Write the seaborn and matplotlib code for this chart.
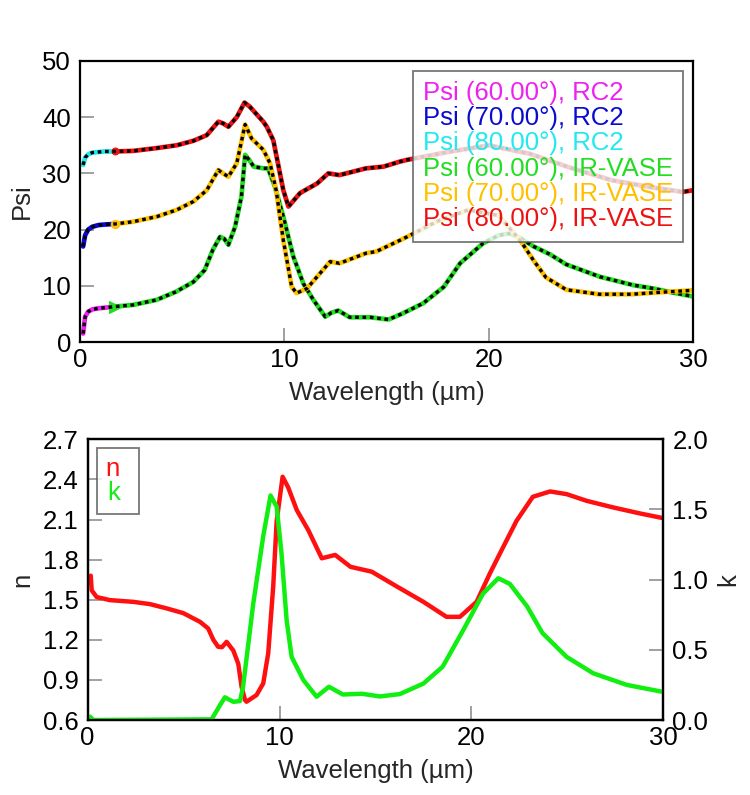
import matplotlib
matplotlib.use("Agg")
import matplotlib.pyplot as plt
import seaborn as sns

# RC2 part (short wavelength) for the three angles
rc2_wl = [0.15, 0.25, 0.4, 0.6, 0.9, 1.2, 1.7]
rc2_psi60 = [1.5, 4.5, 5.4, 5.8, 6.0, 6.1, 6.3]
rc2_psi70 = [17.0, 19.0, 20.0, 20.5, 20.8, 20.9, 21.0]
rc2_psi80 = [31.5, 32.8, 33.4, 33.7, 33.8, 33.9, 33.9]

# IR-VASE part
ir_wl60 = [1.7, 2.6, 3.75, 4.7, 5.55, 6.1, 6.5, 6.85, 7.05, 7.26, 7.59, 7.9, 8.08, 8.3,
           8.5, 8.97, 9.2, 9.54, 9.95, 10.44, 10.93, 11.42, 12.0, 12.3, 12.64, 13.2, 14.2,
           15.1, 15.8, 16.8, 17.8, 18.6, 19.74, 20.5, 21.0, 21.5, 22.2, 23.0, 23.8, 24.1,
           25.45, 27.1, 28.1, 29.0, 30.0]
ir_psi60 = [6.3, 6.6, 7.5, 8.95, 10.7, 12.8, 16.4, 18.7, 18.4, 17.3, 20.5, 25.9, 33.3, 32.3,
            31.2, 30.9, 30.9, 27.6, 22.3, 15.2, 10.4, 7.5, 4.5, 5.2, 5.6, 4.4, 4.4,
            4.0, 5.1, 6.9, 9.8, 14.0, 17.6, 19.0, 19.3, 18.6, 17.0, 15.6, 13.8, 13.4,
            11.6, 10.1, 9.5, 8.8, 8.1]
ir_wl70 = [1.7, 2.6, 3.75, 4.73, 5.55, 6.2, 6.77, 7.0, 7.26, 7.67, 8.08, 8.4, 8.97, 9.3,
           9.6, 9.95, 10.36, 10.6, 11.1, 12.24, 12.7, 14.0, 14.5, 15.66, 16.0, 17.5, 19.0,
           20.5, 21.6, 22.2, 22.8, 23.8, 25.4, 27.0, 28.2, 30.0]
ir_psi70 = [21.0, 21.4, 22.3, 23.5, 25.0, 27.0, 30.6, 30.0, 29.4, 31.8, 38.7, 36.2, 34.2, 31.8,
            27.0, 18.1, 9.8, 8.7, 9.5, 14.3, 14.0, 15.8, 16.1, 18.1, 18.7, 21.5, 23.5,
            22.5, 17.8, 14.5, 11.5, 9.3, 8.5, 8.5, 8.8, 9.2]
ir_wl80 = [1.7, 2.6, 3.75, 4.73, 5.55, 6.2, 6.77, 7.0, 7.26, 7.67, 8.05, 8.3, 8.97, 9.14,
           9.46, 9.95, 10.2, 10.77, 11.6, 12.15, 12.7, 14.0, 14.85, 15.66, 16.0, 18.0, 20.0,
           22.0, 24.0, 26.0, 28.0, 29.5, 30.0]
ir_psi80 = [33.9, 34.0, 34.5, 35.0, 35.8, 36.8, 39.2, 38.9, 38.3, 40.0, 42.6, 41.9, 39.2, 38.3,
            35.9, 27.0, 24.1, 26.5, 28.2, 30.0, 29.7, 30.9, 31.2, 32.1, 32.4, 33.8, 35.0,
            33.5, 31.0, 28.8, 27.5, 26.7, 27.0]

legend_labels = ["Psi (60.00°), RC2", "Psi (70.00°), RC2", "Psi (80.00°), RC2",
                 "Psi (60.00°), IR-VASE", "Psi (70.00°), IR-VASE", "Psi (80.00°), IR-VASE"]
rc2_colors = ["#ee22ee", "#0a0ad0", "#22e8f0"]
ir_colors = ["#22dd22", "#ffc000", "#ee1111"]

# optical constants
n_wl = [0.16, 0.21, 0.47, 1.16, 2.38, 3.25, 4.12, 4.98, 5.85, 6.28, 6.55, 6.8, 7.0, 7.24,
        7.59, 7.85, 8.02, 8.2, 8.28, 8.8, 9.15, 9.41, 9.67, 9.85, 10.16, 10.45, 10.9, 11.5,
        12.2, 12.9, 13.7, 14.8, 16.1, 17.5, 18.7, 19.4, 20.27, 20.96, 21.5, 22.35, 23.2,
        24.1, 24.96, 26.0, 27.4, 28.8, 30.0]
n_val = [1.68, 1.57, 1.52, 1.497, 1.484, 1.467, 1.435, 1.40, 1.335, 1.285, 1.20, 1.148, 1.145,
         1.185, 1.12, 1.02, 0.85, 0.75, 0.737, 0.787, 0.874, 1.10, 1.60, 2.09, 2.42, 2.34,
         2.17, 2.02, 1.81, 1.835, 1.746, 1.71, 1.60, 1.484, 1.372, 1.372, 1.484, 1.696, 1.85,
         2.09, 2.27, 2.31, 2.29, 2.24, 2.19, 2.145, 2.11]
k_wl = [0.12, 0.3, 6.46, 6.9, 7.15, 7.59, 7.94, 8.1, 8.63, 9.15, 9.53, 9.85, 10.1, 10.37,
        10.63, 11.24, 11.93, 12.57, 13.3, 14.3, 15.23, 16.27, 17.5, 18.5, 19.57, 20.6, 21.4,
        22.0, 22.9, 23.7, 24.96, 26.35, 28.1, 30.0]
k_val = [0.024, 0.0, 0.005, 0.107, 0.162, 0.13, 0.135, 0.24, 0.83, 1.31, 1.60, 1.52, 1.19,
         0.71, 0.45, 0.285, 0.166, 0.237, 0.182, 0.187, 0.168, 0.185, 0.26, 0.38, 0.64, 0.90,
         1.01, 0.97, 0.81, 0.62, 0.45, 0.333, 0.25, 0.2]

sns.set_theme(style="white")
plt.rcParams["font.family"] = ["Liberation Sans", "DejaVu Sans"]
FS = 18.5

fig = plt.figure(figsize=(7.5, 7.95), dpi=100)
ax = fig.add_axes([0.1067, 0.5698, 0.8173, 0.3535])
ax_n = fig.add_axes([0.1169, 0.0943, 0.7675, 0.3531])
ax_k = ax_n.twinx()

# ---- top: Psi ----
rc2_sets = [rc2_psi60, rc2_psi70, rc2_psi80]
ir_sets = [(ir_wl60, ir_psi60), (ir_wl70, ir_psi70), (ir_wl80, ir_psi80)]
ir_markers = [(">", 9), ("o", 6), ("o", 5)]
for i in range(3):
    sns.lineplot(x=rc2_wl, y=rc2_sets[i], ax=ax, color=rc2_colors[i], lw=3.4,
                 sort=False, estimator=None)
    wl, psi = ir_sets[i]
    sns.lineplot(x=wl, y=psi, ax=ax, color=ir_colors[i], lw=3.4, sort=False,
                 estimator=None, marker=ir_markers[i][0], ms=ir_markers[i][1],
                 markevery=[0], mec=ir_colors[i])
    # model fit: black dotted over the whole range
    sns.lineplot(x=rc2_wl + wl[1:], y=rc2_sets[i] + psi[1:], ax=ax, color="black",
                 lw=2.4, linestyle=(0, (1.1, 1.1)), sort=False, estimator=None)

ax.set_xlim(0, 30)
ax.set_ylim(0, 50)
ax.set_xticks([0, 10, 20, 30])
ax.set_yticks([0, 10, 20, 30, 40, 50])
ax.set_xlabel("Wavelength (µm)", fontsize=FS, labelpad=7)
ax.set_ylabel("Psi", fontsize=FS)
ax.yaxis.set_label_coords(-0.075, 0.5)

handles = [plt.Line2D([], [], lw=0) for _ in legend_labels]
leg = ax.legend(handles, legend_labels, loc="upper right", bbox_to_anchor=(0.984, 0.966),
                fontsize=FS, handlelength=0, handletextpad=0, labelspacing=0.05,
                borderpad=0.4, borderaxespad=0, frameon=True, fancybox=False)
leg.get_frame().set_edgecolor("#555555")
leg.get_frame().set_linewidth(1.3)
for t, c in zip(leg.get_texts(), rc2_colors + ir_colors):
    t.set_color(c)

# ---- bottom: n and k ----
sns.lineplot(x=n_wl, y=n_val, ax=ax_n, color="#ff1010", lw=3.2, sort=False, estimator=None)
sns.lineplot(x=k_wl, y=k_val, ax=ax_k, color="#11ee11", lw=3.2, sort=False, estimator=None)
ax_n.set_xlim(0, 30)
ax_n.set_ylim(0.6, 2.7)
ax_k.set_ylim(0, 2.0)
ax_n.set_xticks([0, 10, 20, 30])
ax_n.set_yticks([0.6, 0.9, 1.2, 1.5, 1.8, 2.1, 2.4, 2.7])
ax_n.set_yticklabels(["0.6", "0.9", "1.2", "1.5", "1.8", "2.1", "2.4", "2.7"])
ax_k.set_yticks([0, 0.5, 1.0, 1.5, 2.0])
ax_k.set_yticklabels(["0.0", "0.5", "1.0", "1.5", "2.0"])
ax_n.set_xlabel("Wavelength (µm)", fontsize=FS, labelpad=7)
ax_n.set_ylabel("n", fontsize=FS)
ax_k.set_ylabel("k", fontsize=FS)
ax_n.yaxis.set_label_coords(-0.093, 0.5)
ax_k.yaxis.set_label_coords(1.092, 0.5)

nk_handles = [plt.Line2D([], [], lw=0), plt.Line2D([], [], lw=0)]
leg2 = ax_k.legend(nk_handles, ["n", "k"], loc="upper left", bbox_to_anchor=(0.0156, 0.968),
                   fontsize=FS, handlelength=0, handletextpad=0.4, markerfirst=False,
                   labelspacing=0.0, borderpad=0.35, borderaxespad=0, frameon=True,
                   fancybox=False)
leg2.get_frame().set_edgecolor("#555555")
leg2.get_frame().set_linewidth(1.3)
for t, c in zip(leg2.get_texts(), ["#ff1010", "#11ee11"]):
    t.set_color(c)

for a in (ax, ax_n, ax_k):
    for s in a.spines.values():
        s.set_color("black")
        s.set_linewidth(1.6)
    a.tick_params(direction="in", length=10, width=1.3, color="#999999",
                  labelsize=FS, labelcolor="black")
    a.tick_params(axis="y", pad=6.5)
    a.tick_params(axis="x", pad=4)
    a.grid(False)
ax.tick_params(axis="y", left=True, right=False)
ax.tick_params(axis="x", bottom=True, top=False)
ax_n.tick_params(axis="y", left=True, right=False)
ax_n.tick_params(axis="x", bottom=True, top=False)
ax_k.tick_params(axis="y", right=True, left=False)

fig.savefig("out.png", dpi=100)
